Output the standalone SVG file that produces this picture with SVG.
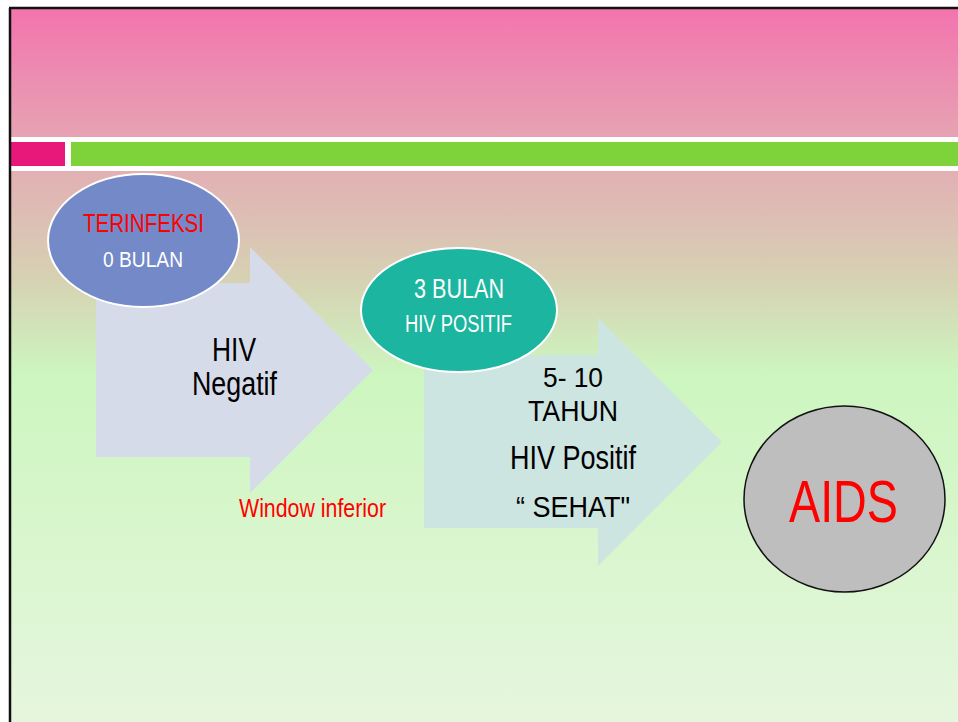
<svg xmlns="http://www.w3.org/2000/svg" width="958" height="722" viewBox="0 0 958 722">
<defs>
<linearGradient id="hdr" x1="0" y1="0" x2="0" y2="1">
<stop offset="0" stop-color="#f374ae"/>
<stop offset="1" stop-color="#e6a3b3"/>
</linearGradient>
<linearGradient id="bg" gradientUnits="userSpaceOnUse" x1="0" y1="171" x2="0" y2="722">
<stop offset="0" stop-color="#e2b0b4"/>
<stop offset="0.2" stop-color="#d6d2b3"/>
<stop offset="0.37" stop-color="#cdf6bf"/>
<stop offset="1" stop-color="#e6f6de"/>
</linearGradient>
<style>
text{font-family:"Liberation Sans",Arial,sans-serif;text-anchor:middle}
.wt{fill:#ffffff}
.bk{fill:#000000}
.rd{fill:#ff0000}
.bub{stroke:#ffffff;stroke-width:2}
</style>
</defs>
<rect x="0" y="0" width="958" height="722" fill="#ffffff"/>
<rect x="11" y="9" width="947" height="128" fill="url(#hdr)"/>
<rect x="11" y="171" width="947" height="551" fill="url(#bg)"/>
<rect x="11" y="142" width="54" height="24" fill="#e8177a"/>
<rect x="71" y="142" width="887" height="24" fill="#7ed23a"/>
<line x1="10" y1="8" x2="10" y2="722" stroke="#111111" stroke-width="2.5"/>
<line x1="9" y1="8" x2="958" y2="8" stroke="#111111" stroke-width="2.5"/>

<g id="connectors">
<path id="arrow1" d="M96 283 H250 V247 L373 370 L250 493 V457 H96 Z" fill="#d6dbe9"/>
<path id="arrow2" d="M424 355 H598 V318 L722 442 L598 566 V528 H424 Z" fill="#cde5e0"/>
</g>

<g id="node-terinfeksi">
<ellipse class="bub" cx="143.5" cy="240.5" rx="95.5" ry="66.5" fill="#7389c8"/>
<text class="rd" x="143.5" y="232" font-size="26" textLength="121" lengthAdjust="spacingAndGlyphs">TERINFEKSI</text>
<text class="wt" x="143" y="267" font-size="22" textLength="80" lengthAdjust="spacingAndGlyphs">0 BULAN</text>
</g>

<g id="label-hiv-negatif">
<text class="bk" x="234" y="361" font-size="33" textLength="44" lengthAdjust="spacingAndGlyphs">HIV</text>
<text class="bk" x="234.5" y="395" font-size="33" textLength="85" lengthAdjust="spacingAndGlyphs">Negatif</text>
</g>

<g id="label-window">
<text class="rd" x="312.5" y="517" font-size="25" textLength="147" lengthAdjust="spacingAndGlyphs">Window inferior</text>
</g>

<g id="node-3bulan">
<ellipse class="bub" cx="459" cy="310" rx="98" ry="62" fill="#1bb5a0"/>
<text class="wt" x="459" y="298" font-size="27" textLength="90" lengthAdjust="spacingAndGlyphs">3 BULAN</text>
<text class="wt" x="458.5" y="332" font-size="23" textLength="107" lengthAdjust="spacingAndGlyphs">HIV POSITIF</text>
</g>

<g id="label-5-10">
<text class="bk" x="573" y="387" font-size="28" textLength="60" lengthAdjust="spacingAndGlyphs">5- 10</text>
<text class="bk" x="573" y="421" font-size="29" textLength="90" lengthAdjust="spacingAndGlyphs">TAHUN</text>
<text class="bk" x="573" y="469" font-size="33" textLength="126" lengthAdjust="spacingAndGlyphs">HIV Positif</text>
<text class="bk" x="573" y="517" font-size="30" textLength="114" lengthAdjust="spacingAndGlyphs">“ SEHAT"</text>
</g>

<g id="node-aids">
<ellipse cx="844.5" cy="499" rx="100.5" ry="93" fill="#bebebe" stroke="#111111" stroke-width="1.5"/>
<text class="rd" x="843.5" y="522" font-size="60" textLength="109" lengthAdjust="spacingAndGlyphs">AIDS</text>
</g>
</svg>
